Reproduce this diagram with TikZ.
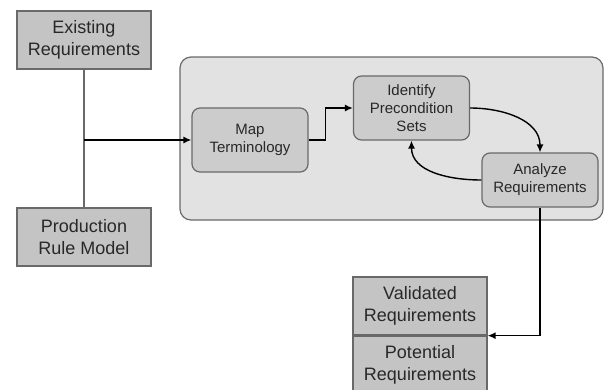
\documentclass[tikz,border=0pt]{standalone}
\usepackage{fontspec}
\setmainfont{Liberation Sans}
\usetikzlibrary{arrows.meta, positioning, calc}
\definecolor{boxgray}{RGB}{196, 196, 196}
\definecolor{stepgray}{RGB}{204, 204, 204}
\definecolor{panelgray}{RGB}{226, 226, 226}
\definecolor{edgegray}{RGB}{105, 105, 105}
\definecolor{textgray}{RGB}{40, 40, 40}

\begin{document}
\begin{tikzpicture}[x=1pt, y=1pt,
    datastore/.style={draw=edgegray, line width=1.3pt, fill=boxgray, text=textgray,
      minimum width=134pt, minimum height=58pt, inner sep=0pt, align=center,
      font=\fontsize{18}{22}\selectfont},
    stepbox/.style={draw=edgegray, line width=1.2pt, fill=stepgray, rounded corners=8pt,
      text=textgray, minimum width=116pt, minimum height=64pt, inner sep=0pt, align=center,
      font=\fontsize{15}{18}\selectfont},
    flow/.style={line width=1.4pt, -{Latex[length=8pt, width=7pt]}}]
  \useasboundingbox (0,0) rectangle (604,-389);
  \clip (0,0) rectangle (604,-389);
  % inputs
  \node[datastore] (existing) at (84,-40) {Existing\\Requirements};
  \node[datastore] (production) at (84,-237) {Production\\Rule Model};
  % process panel
  \node[draw=edgegray, line width=1.2pt, fill=panelgray, rounded corners=11pt,
    minimum width=423pt, minimum height=163pt] (panel) at (391.5,-138.5) {};
  \node[stepbox] (mapterm) at (250,-140) {Map\\Terminology};
  \node[stepbox] (identify) at (411.5,-108) {Identify\\Precondition\\Sets};
  \node[stepbox, minimum height=54pt] (analyze) at (540,-180) {Analyze\\Requirements};
  % outputs
  \node[datastore] (validated) at (420,-306) {Validated\\Requirements};
  \node[datastore, anchor=north] (potential) at (validated.south) {Potential\\Requirements};
  % connectors
  \coordinate (junction) at (existing.south |- mapterm.west);
  \draw[draw=edgegray, line width=1.6pt] (existing.south) -- (production.north);
  \draw[flow] (junction) -- (mapterm.west);
  \draw[flow] (mapterm.east) -- ++(17,0) |- (identify.west);
  \draw[flow] (identify.east) to[out=0, in=90] (analyze.north);
  \draw[flow] (analyze.west) to[out=180, in=-90] (identify.south);
  \draw[flow] (analyze.south) |- (validated.south east);
\end{tikzpicture}
\end{document}
